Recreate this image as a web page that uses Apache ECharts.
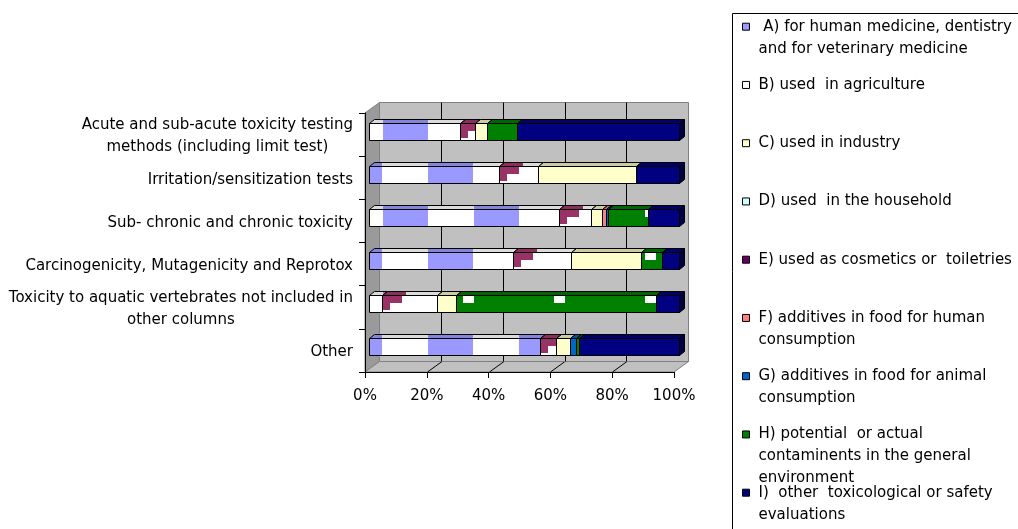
<!DOCTYPE html>
<html>
<head>
<meta charset="utf-8">
<script src="https://cdn.jsdelivr.net/npm/echarts@6/dist/echarts.min.js"></script>
<style>
  html, body { margin: 0; padding: 0; background: #ffffff; }
  #chart { width: 1018px; height: 529px; }
</style>
</head>
<body>
<div id="chart"></div>
<script>
// ---- data -------------------------------------------------------------
const categories = [
  'Acute and sub-acute toxicity testing\nmethods (including limit test)',
  'Irritation/sensitization tests',
  'Sub- chronic and chronic toxicity',
  'Carcinogenicity, Mutagenicity and Reprotox',
  'Toxicity to aquatic vertebrates not included in\nother columns',
  'Other'
];
const seriesNames = [
  'A) for human medicine, dentistry\nand for veterinary medicine',
  'B) used  in agriculture',
  'C) used in industry',
  'D) used  in the household',
  'E) used as cosmetics or  toiletries',
  'F) additives in food for human\nconsumption',
  'G) additives in food for animal\nconsumption',
  'H) potential  or actual\ncontaminents in the general\nenvironment',
  'I)  other  toxicological or safety\nevaluations'
];
// share of each row (%), one array per series, rows in category order
const valuesA = [29.2, 41.9, 61.3, 46.3, 4.0, 55.1];
const valuesB = [4.9, 12.6, 10.1, 18.8, 17.7, 5.1];
const valuesC = [4.0, 31.5, 3.6, 22.6, 6.2, 4.4];
const valuesD = [0, 0, 0, 0, 0, 0];
const valuesE = [0, 0, 0, 0, 0, 0];
const valuesF = [0, 0, 1.3, 0, 0, 0];
const valuesG = [0, 0, 0.8, 0, 0, 2.1];
const valuesH = [9.4, 0, 12.9, 6.7, 64.6, 0.9];
const valuesI = [52.5, 14.0, 10.0, 5.6, 7.5, 32.4];
const percentTicks = [0, 20, 40, 60, 80, 100];

const seriesValues = [valuesA, valuesB, valuesC, valuesD, valuesE, valuesF, valuesG, valuesH, valuesI];

// ---- look -------------------------------------------------------------
const FONT = 'DejaVu Sans';
const seriesColors = ['#9999FF', '#FFFFFF', '#FFFFCC', '#CCFFFF', '#660066', '#FF8080', '#0066CC', '#008000', '#000080'];
const frontFrame = { left: 365, top: 113, width: 309, height: 259 };
const wallShift = { x: 14.5, y: -10.5 };
const barFrame = { left: 369.3, top: 110.2, width: 310, height: 258 };
const boxShift = { x: 5, y: -4 };
const barRatio = 0.4;

function shade(hex, k) {
  const n = parseInt(hex.slice(1), 16);
  const r = Math.round(((n >> 16) & 255) * k);
  const g = Math.round(((n >> 8) & 255) * k);
  const b = Math.round((n & 255) * k);
  return 'rgb(' + r + ',' + g + ',' + b + ')';
}

function tile(w, h, bg, fg, rects) {
  const c = document.createElement('canvas');
  c.width = w; c.height = h;
  const g = c.getContext('2d');
  g.fillStyle = bg; g.fillRect(0, 0, w, h);
  g.fillStyle = fg;
  rects.forEach(function (r) { g.fillRect(r[0], r[1], r[2], r[3]); });
  return c;
}

// pattern tiles used by the fills of series A, B and H
const checkerFront = tile(91, 8, '#FFFFFF', '#9999FF', [[0, 0, 45, 8]]);
const checkerTop = tile(91, 8, shade('#FFFFFF', 0.86), shade('#9999FF', 0.86), [[0, 0, 45, 8]]);
const cornerFront = tile(1024, 64, '#FFFFFF', '#993366', [[0, 0, 20, 8], [0, 0, 8, 15]]);
const cornerTop = tile(1024, 64, shade('#FFFFFF', 0.86), shade('#993366', 0.9), [[0, 0, 24, 8]]);
const spotsFront = tile(91, 64, '#008000', '#FFFFFF', [[80, 0, 11, 8]]);
const PATTERN_X = 383;

function faceFill(s, face, x0, y0, row) {
  const base = seriesColors[s];
  if (s === 0) {
    return { image: face === 'front' ? checkerFront : checkerTop, repeat: 'repeat',
             x: PATTERN_X + (row % 2) * 45, y: 0 };
  }
  if (s === 1) {
    return { image: face === 'front' ? cornerFront : cornerTop, repeat: 'repeat',
             x: Math.floor(x0), y: Math.floor(y0) };
  }
  if (s === 7 && face === 'front') {
    return { image: spotsFront, repeat: 'repeat', x: PATTERN_X, y: Math.floor(y0) };
  }
  return face === 'front' ? base : shade(base, 0.8);
}

// stacked segments: [start, end, row]
function segments(s) {
  return categories.map(function (_, row) {
    let start = 0;
    for (let k = 0; k < s; k++) start += seriesValues[k][row];
    return [start, start + seriesValues[s][row], row];
  });
}

function boxRenderer(s) {
  return function (params, api) {
    const start = api.value(0), end = api.value(1), row = api.value(2);
    if (!(end - start > 0)) return null;
    const a = api.coord([start, row]);
    const b = api.coord([end, row]);
    const h = Math.round(api.size([0, 1])[1] * barRatio);
    const x0 = Math.round(a[0]) + 0.5, x1 = Math.round(b[0]) + 0.5;
    const yT = Math.round(a[1] - h / 2) + 0.5, yB = yT + h;
    const dx = boxShift.x, dy = boxShift.y;
    const line = { stroke: '#000000', lineWidth: 1 };
    return {
      type: 'group',
      children: [
        { type: 'polygon',
          shape: { points: [[x1, yT], [x1 + dx, yT + dy], [x1 + dx, yB + dy], [x1, yB]] },
          style: Object.assign({ fill: shade(seriesColors[s], 0.5) }, line) },
        { type: 'polygon',
          shape: { points: [[x0, yT], [x1, yT], [x1 + dx, yT + dy], [x0 + dx, yT + dy]] },
          style: Object.assign({ fill: faceFill(s, 'top', x0, yT + dy, row) }, line) },
        { type: 'rect',
          shape: { x: x0, y: yT, width: x1 - x0, height: h },
          style: Object.assign({ fill: faceFill(s, 'front', x0, yT, row) }, line) }
      ]
    };
  };
}

const series = seriesNames.map(function (name, s) {
  return {
    type: 'custom',
    name: name,
    xAxisIndex: 2,
    yAxisIndex: 2,
    clip: false,
    itemStyle: { color: seriesColors[s] },
    encode: { x: [0, 1], y: 2 },
    renderItem: boxRenderer(s),
    data: segments(s)
  };
});

// one legend block per series, stacked at a fixed pitch; blank lines above the
// text keep the swatch level with the first line of a wrapped entry
const LEGEND_LINE = 22, LEGEND_FIRST = 26.7, LEGEND_PITCH = 58.25;
const legends = seriesNames.map(function (name, s) {
  const n = name.split('\n').length;
  return {
    left: 742,
    top: LEGEND_FIRST + s * LEGEND_PITCH - (2 * n - 1) * LEGEND_LINE / 2,
    orient: 'vertical',
    padding: 0,
    icon: 'rect',
    itemWidth: 7,
    itemHeight: 7,
    selectedMode: false,
    formatter: function (nm) {
      return '\n'.repeat(n - 1) + (s === 0 ? ' ' : '') + nm;
    },
    itemStyle: { borderColor: '#000000', borderWidth: 1 },
    textStyle: {
      fontFamily: FONT, fontSize: 15, color: '#000000', lineHeight: LEGEND_LINE,
      padding: [0, 0, 0, 4], backgroundColor: 'transparent'
    },
    data: [{ name: name, itemStyle: { color: seriesColors[s] } }]
  };
});

const chart = echarts.init(document.getElementById('chart'), null, { renderer: 'canvas' });

chart.setOption({
  animation: false,
  backgroundColor: '#ffffff',
  legend: legends,
  grid: [
    { left: frontFrame.left, top: frontFrame.top, width: frontFrame.width, height: frontFrame.height },
    { left: frontFrame.left + wallShift.x, top: frontFrame.top + wallShift.y,
      width: frontFrame.width, height: frontFrame.height,
      show: true, backgroundColor: '#C0C0C0', borderColor: '#808080', borderWidth: 1 },
    { left: barFrame.left, top: barFrame.top, width: barFrame.width, height: barFrame.height }
  ],
  xAxis: [
    { gridIndex: 0, type: 'value', min: 0, max: 100, interval: 20,
      axisLine: { show: true, lineStyle: { color: '#000000', width: 1 } },
      axisTick: { show: true, length: 6, lineStyle: { color: '#000000' } },
      splitLine: { show: false },
      axisLabel: { margin: 17, fontFamily: FONT, fontSize: 15, color: '#000000',
        formatter: function (v) { return percentTicks.indexOf(v) >= 0 ? v + '%' : ''; } } },
    { gridIndex: 1, type: 'value', min: 0, max: 100, interval: 20,
      axisLine: { show: false }, axisTick: { show: false }, axisLabel: { show: false },
      splitLine: { show: true, showMinLine: false, showMaxLine: false,
        lineStyle: { color: '#000000', width: 1 } } },
    { gridIndex: 2, type: 'value', min: 0, max: 100, show: false }
  ],
  yAxis: [
    { gridIndex: 0, type: 'category', data: categories, inverse: true,
      axisLine: { show: true, lineStyle: { color: '#000000', width: 1 } },
      axisTick: { show: true, length: 6, lineStyle: { color: '#000000' } },
      axisLabel: {
        margin: 12, fontFamily: FONT, fontSize: 15, color: '#000000',
        padding: [4, 0, 0, 0],
        formatter: function (v) {
          return v.split('\n').map(function (t) { return '{c|' + t + '}'; }).join('\n');
        },
        rich: { c: { align: 'center', fontFamily: FONT, fontSize: 15, lineHeight: 22, color: '#000000' } }
      } },
    { gridIndex: 1, type: 'category', data: categories, inverse: true, show: false },
    { gridIndex: 2, type: 'category', data: categories, inverse: true, show: false }
  ],
  series: series
});

// side wall, floor, floor grid lines and the legend frame
const fl = frontFrame.left, ft = frontFrame.top;
const fr = frontFrame.left + frontFrame.width, fb = frontFrame.top + frontFrame.height;
const sx = wallShift.x, sy = wallShift.y;
const decor = [
  { type: 'rect', z: -1, shape: { x: 732.5, y: 13.5, width: 400, height: 600 },
    style: { fill: '#ffffff', stroke: '#000000', lineWidth: 1 } },
  { type: 'polygon', z: -1,
    shape: { points: [[fl, ft], [fl + sx, ft + sy], [fl + sx, fb + sy], [fl, fb]] },
    style: { fill: '#9A9A9A', stroke: '#808080', lineWidth: 1 } },
  { type: 'polygon', z: -1,
    shape: { points: [[fl, fb], [fr, fb], [fr + sx, fb + sy], [fl + sx, fb + sy]] },
    style: { fill: '#C0C0C0', stroke: '#808080', lineWidth: 1 } }
];
percentTicks.slice(1, -1).forEach(function (v) {
  const x = chart.convertToPixel({ xAxisIndex: 0 }, v);
  const xr = Math.round(x) + 0.5;
  decor.push({ type: 'line', z: -1,
    shape: { x1: xr, y1: fb, x2: xr + sx, y2: fb + sy },
    style: { stroke: '#000000', lineWidth: 1 } });
});
chart.setOption({ graphic: decor });
</script>
</body>
</html>
